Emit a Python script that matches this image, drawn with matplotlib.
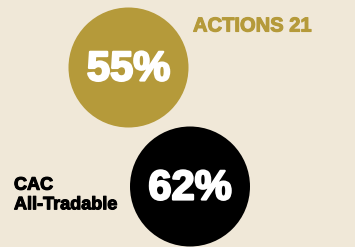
import matplotlib.pyplot as plt
import matplotlib.patheffects as pe
from matplotlib.patches import Circle

labels = ["ACTIONS 21", "CAC\nAll-Tradable"]
values = [55, 62]
colors = ["#b59a3a", "#000000"]

bg = "#f0e8d8"

fig = plt.figure(figsize=(3.55, 2.47), dpi=100)
fig.patch.set_facecolor(bg)
ax = fig.add_axes([0, 0, 1, 1])
ax.set_facecolor(bg)
ax.set_xlim(0, 355)
ax.set_ylim(247, 0)
ax.set_aspect("equal")
ax.axis("off")

# circle centres, and where each label goes
centres = [(128.5, 67.5), (190, 186.5)]
label_pos = [(193, 26), (14, 195)]
label_size = [14.5, 13]
radius = 60

for i in range(len(values)):
    cx, cy = centres[i]
    ax.add_patch(Circle((cx, cy), radius, color=colors[i], lw=0))
    ax.text(cx, cy + 2, f"{values[i]}%", color="white", fontsize=30,
            fontweight="bold", family="Liberation Sans",
            ha="center", va="center",
            path_effects=[pe.withStroke(linewidth=1.6, foreground="white")])
    lx, ly = label_pos[i]
    ax.text(lx, ly, labels[i], color=colors[i], fontsize=label_size[i],
            fontweight="bold", family="Liberation Sans",
            ha="left", va="center", linespacing=1.2,
            path_effects=[pe.withStroke(linewidth=0.8, foreground=colors[i])])

fig.savefig("out.png", dpi=100, facecolor=bg)
